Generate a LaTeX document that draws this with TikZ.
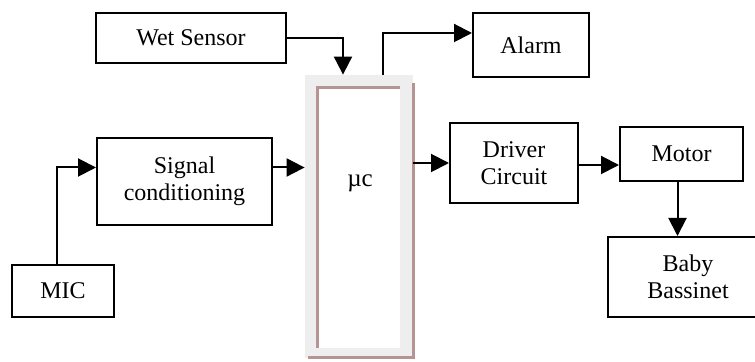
\documentclass[tikz,border=0pt]{standalone}
\usepackage{fontspec}
\setmainfont{Liberation Serif}
\usetikzlibrary{arrows.meta}

\definecolor{mcbrown}{RGB}{182,148,148}
\definecolor{mcgray}{RGB}{238,238,238}

\tikzset{
    block/.style={draw, line width=1pt, align=center, inner sep=2pt,
        font=\fontsize{12}{13.5}\selectfont},
    arr/.style={line width=1pt, -{Triangle[length=9pt,width=9pt]}}
}

\begin{document}
\begin{tikzpicture}[x=0.5pt, y=-0.5pt]
    \useasboundingbox (0,0) rectangle (755,362);

    % Microcontroller (grey frame with shaded border)
    \node[fill=mcgray, minimum width=54pt, minimum height=141.5pt] (mc) at (359,216.5) {};
    \fill[white] (317,88) rectangle (400,348);
    \draw[mcbrown, line width=1.5pt] (317,348) -- (317,88) -- (400,88);
    \draw[mcbrown, line width=1.5pt] (413,83) -- (413,358) -- (308,358);
    \node[font=\fontsize{12.5}{13.5}\selectfont] (mctext) at (360,183) {µc};

    % Blocks
    \node[block, minimum width=95pt, minimum height=25pt] (wet) at (191,38) {Wet Sensor};
    \node[block, minimum width=58pt, minimum height=32pt] (alarm) at (531,45) {Alarm};
    \node[block, minimum width=87.5pt, minimum height=43.5pt] (sig) at (184.5,181.5) {Signal\\conditioning};
    \node[block, minimum width=51pt, minimum height=26pt] (mic) at (63,291) {MIC};
    \node[block, minimum width=64pt, minimum height=40pt] (driver) at (514,163) {Driver\\Circuit};
    \node[block, minimum width=61.5pt, minimum height=27pt] (motor) at (681.5,154) {Motor};
    \node[block, minimum width=80pt, minimum height=40pt] (bass) at (688,277) {Baby\\Bassinet};

    % Connections
    \draw[arr] (wet.east) -| ([xshift=-8pt]mc.north);
    \draw[arr] ([xshift=12pt]mc.north) |- ([yshift=6pt]alarm.west);
    \draw[arr] ([xshift=-3pt]mic.north) |- ([yshift=7pt]sig.west);
    \draw[arr] ([yshift=7pt]sig.east) -- ([yshift=7pt]sig.east -| mc.west);
    \draw[arr] (mc.east |- driver.west) -- (driver.west);
    \draw[arr] ([yshift=-1pt]driver.east) -- ([yshift=-1pt]driver.east -| motor.west);
    \draw[arr] ([xshift=-2pt]motor.south) -- ([xshift=-2pt]motor.south |- bass.north);
\end{tikzpicture}
\end{document}
